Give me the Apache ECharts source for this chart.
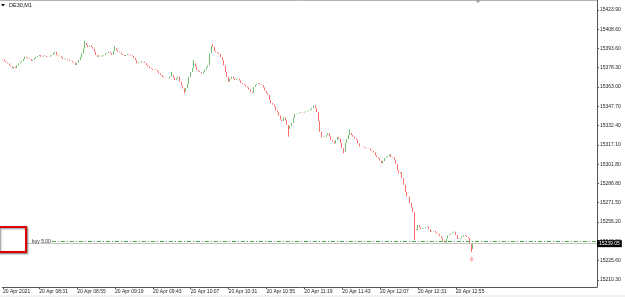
<!DOCTYPE html>
<html>
<head>
<meta charset="utf-8">
<script src="https://cdn.jsdelivr.net/npm/echarts@6/dist/echarts.min.js"></script>
<style>
  html, body { margin: 0; padding: 0; background: #fff; }
  #chart { width: 625px; height: 297px; }
</style>
</head>
<body>
<div id="chart"></div>
<script>
// DE30 M1, 20 Apr 2021, one close per minute from 08:08
const firstOpen = 15385.0
const closes = [
  15384.7, 15383.5, 15382.4, 15381.6, 15380.4, 15379.2, 15377.8, 15378.8, 15378.0, 15380.0,
  15381.6, 15382.4, 15383.5, 15385.1, 15386.9, 15386.3, 15385.5, 15385.1, 15383.8, 15384.3,
  15385.5, 15386.7, 15387.5, 15388.3, 15386.9, 15387.1, 15387.9, 15387.5, 15386.7, 15386.9,
  15387.9, 15388.3, 15389.9, 15390.9, 15388.3, 15387.9, 15387.5, 15386.3, 15385.1, 15384.9,
  15385.5, 15384.7, 15383.9, 15383.5, 15382.8, 15382.2, 15380.4, 15382.0, 15384.3, 15386.7,
  15389.5, 15393.4, 15397.8, 15396.2, 15394.6, 15395.8, 15394.6, 15393.4, 15390.9, 15388.3,
  15386.9, 15387.9, 15387.1, 15387.9, 15388.3, 15389.6, 15390.1, 15390.9, 15389.5, 15388.3,
  15391.5, 15393.6, 15392.3, 15390.9, 15390.3, 15389.1, 15388.3, 15387.5, 15388.3, 15389.1,
  15388.7, 15387.9, 15387.5, 15385.9, 15384.3, 15381.7, 15382.4, 15382.2, 15383.2, 15383.0,
  15382.0, 15380.4, 15379.2, 15377.8, 15377.2, 15376.4, 15376.8, 15376.4, 15375.2, 15373.8,
  15372.5, 15371.1, 15370.5, 15370.3, 15370.1, 15369.9, 15371.3, 15372.5, 15370.5, 15368.5,
  15369.7, 15371.1, 15367.2, 15364.2, 15361.8, 15359.3, 15362.2, 15365.4, 15371.1, 15374.8,
  15378.0, 15381.7, 15379.2, 15376.4, 15375.6, 15374.8, 15373.8, 15375.2, 15376.8, 15378.4,
  15380.0, 15389.6, 15395.4, 15394.9, 15391.5, 15390.7, 15389.9, 15389.1, 15386.7, 15384.3,
  15380.0, 15374.8, 15370.9, 15367.2, 15369.3, 15371.1, 15369.7, 15368.5, 15369.3, 15369.7,
  15368.1, 15366.1, 15365.4, 15364.6, 15363.4, 15362.6, 15361.0, 15359.0, 15358.2, 15363.0,
  15364.6, 15365.4, 15365.9, 15365.0, 15364.6, 15362.6, 15360.2, 15358.2, 15356.7, 15352.7,
  15350.3, 15349.1, 15347.4, 15344.4, 15342.8, 15340.4, 15337.3, 15336.1, 15338.9, 15336.9,
  15332.9, 15329.8, 15332.1, 15334.5, 15338.5, 15341.6, 15342.0, 15342.2, 15342.8, 15343.2,
  15342.8, 15343.2, 15343.6, 15344.0, 15344.4, 15345.2, 15346.4, 15348.3, 15346.4, 15343.2,
  15336.1, 15327.6, 15323.0, 15323.4, 15323.8, 15325.0, 15326.4, 15323.8, 15321.1, 15319.9,
  15318.4, 15321.1, 15323.4, 15322.2, 15318.7, 15314.7, 15311.8, 15318.7, 15321.8, 15325.0,
  15326.6, 15325.0, 15323.7, 15322.2, 15321.1, 15318.3, 15315.8, 15315.9, 15315.8, 15315.1,
  15314.5, 15314.7, 15314.5, 15313.1, 15312.3, 15311.2, 15308.8, 15307.6, 15306.6, 15304.8,
  15302.6, 15304.4, 15306.8, 15307.6, 15308.4, 15309.6, 15307.6, 15307.2, 15305.2, 15302.1,
  15297.3, 15294.7, 15295.7, 15291.0, 15285.5, 15279.9, 15276.2, 15276.0, 15271.2, 15267.7,
  15264.1, 15250.6, 15249.9, 15253.8, 15252.2, 15250.6, 15251.0, 15251.4, 15252.2, 15252.6,
  15250.6, 15248.3, 15248.7, 15249.1, 15247.9, 15247.1, 15246.7, 15245.1, 15243.9, 15241.5,
  15240.0, 15243.1, 15245.5, 15246.3, 15247.2, 15247.9, 15248.5, 15245.9, 15242.7, 15243.1,
  15243.5, 15244.7, 15245.9, 15245.1, 15244.3, 15243.5, 15239.3, 15234.8, 15239.05
]
// wick extremes (bar index -> price)
const wickHighs = { 52: 15399.6, 71: 15395.4, 107: 15375.1, 121: 15384.3, 133: 15397.0, 220: 15329.5 }
const wickLows = { 115: 15358.0, 181: 15323.7, 216: 15310.5, 261: 15241.9, 297: 15232.4 }

const yTickLabels = [15210.30, 15225.60, 15240.90, 15256.20, 15271.50, 15286.80, 15301.80,
  15317.10, 15332.40, 15347.70, 15363.00, 15378.30, 15393.60, 15408.60, 15423.90]

const bidPrice = 15239.05
const buyPrice = 15240.6
const buyLabel = 'buy 5.00'
const sellArrow = [297, 15226.7]

const startMinute = 8 * 60 + 8
const slotCount = 377 // bars plus the empty shift on the right
const categories = []
for (let i = 0; i < slotCount; i++) {
  const m = startMinute + i
  categories.push(String(Math.floor(m / 60)).padStart(2, '0') + ':' + String(m % 60).padStart(2, '0'))
}

const candles = closes.map((c, i) => {
  const o = i === 0 ? firstOpen : closes[i - 1]
  const lo = wickLows[i] !== undefined ? wickLows[i] : Math.min(o, c)
  const hi = wickHighs[i] !== undefined ? wickHighs[i] : Math.max(o, c)
  return [o, c, lo, hi]
})

const lastBar = closes.length - 1
const showTime = (i) => i === 0 || (i >= 23 && (i - 23) % 24 === 0 && i <= lastBar)

const chart = echarts.init(document.getElementById('chart'), null, { renderer: 'canvas' })
chart.setOption({
  animation: false,
  backgroundColor: '#fff',
  grid: { left: 0, right: 28, top: 0, bottom: 10 },
  xAxis: {
    type: 'category',
    data: categories,
    boundaryGap: true,
    axisLine: { lineStyle: { color: '#555', width: 1 } },
    axisTick: { show: true, alignWithLabel: true, length: 2, interval: (i) => showTime(i), lineStyle: { color: '#555' } },
    axisLabel: {
      interval: (i) => showTime(i),
      formatter: (v, i) => (i === 0 ? '20 Apr 2021' : '20 Apr ' + v),
      align: 'left',
      margin: 2,
      fontSize: 5,
      fontFamily: 'Liberation Sans',
      color: '#222'
    },
    splitLine: { show: false }
  },
  yAxis: {
    type: 'value',
    position: 'right',
    min: 15204.76,
    max: 15431.81,
    axisLine: { show: true, lineStyle: { color: '#555', width: 1 } },
    axisTick: { show: true, length: 2, customValues: yTickLabels, lineStyle: { color: '#555' } },
    axisLabel: {
      customValues: yTickLabels,
      formatter: (v) => v.toFixed(2),
      margin: 3,
      fontSize: 5,
      fontFamily: 'Liberation Sans',
      color: '#222'
    },
    splitLine: { show: false }
  },
  graphic: [
    { type: 'line', shape: { x1: 0, y1: 0.5, x2: 597, y2: 0.5 }, style: { stroke: '#b4b4b4', lineWidth: 1 } },
    { type: 'polygon', shape: { points: [[475, 0], [481, 0], [478, 3]] }, style: { fill: '#a0a0a0' } },
    { type: 'polygon', shape: { points: [[1, 4], [5, 4], [3, 6.5]] }, style: { fill: '#000' } },
    { type: 'text', left: 9, top: 2, style: { text: 'DE30,M1', fontSize: 5.5, fontFamily: 'Liberation Sans', fill: '#111' } },
    {
      type: 'rect', z: 100, shape: { x: -1, y: 227, width: 27, height: 25 },
      style: { fill: '#fff', stroke: '#e00000', lineWidth: 2, shadowBlur: 2, shadowOffsetX: 1, shadowOffsetY: 1, shadowColor: 'rgba(0,0,0,0.45)' }
    },
    { type: 'line', shape: { x1: 0, y1: 296, x2: 625, y2: 296 }, style: { stroke: '#e4e4e4', lineWidth: 1 } }
  ],
  series: [
    {
      type: 'candlestick',
      data: candles,
      barWidth: 1.3,
      itemStyle: {
        color: '#b4e0b4',
        color0: '#ffc0c0',
        borderColor: '#5cb85c',
        borderColor0: '#ff5c5c',
        borderColorDoji: '#505050',
        borderWidth: 0.9
      },
      markLine: {
        silent: true,
        symbol: 'none',
        animation: false,
        data: [
          {
            yAxis: bidPrice,
            lineStyle: { color: '#c4c4c4', type: 'solid', width: 1 },
            label: {
              show: true, position: 'end', distance: 0,
              formatter: bidPrice.toFixed(2),
              backgroundColor: '#000', color: '#fff', padding: [1, 2, 1, 2],
              fontSize: 5, fontFamily: 'Liberation Sans'
            }
          },
          [
            {
              coord: [categories[31], buyPrice],
              lineStyle: { color: '#44a844', type: [4, 2, 1, 2], width: 1 },
              label: {
                show: true, position: 'start', distance: 1, formatter: buyLabel,
                fontSize: 5, fontFamily: 'Liberation Sans', color: '#333'
              }
            },
            { coord: [categories[slotCount - 1], buyPrice] }
          ]
        ]
      }
    },
    {
      type: 'scatter',
      data: [[categories[sellArrow[0]], sellArrow[1]]],
      symbol: 'path://M3,0 L7,0 L7,5 L10,5 L5,10 L0,5 L3,5 Z',
      symbolSize: [5, 5],
      itemStyle: { color: '#ff9a9a' },
      silent: true
    }
  ]
})
</script>
</body>
</html>
